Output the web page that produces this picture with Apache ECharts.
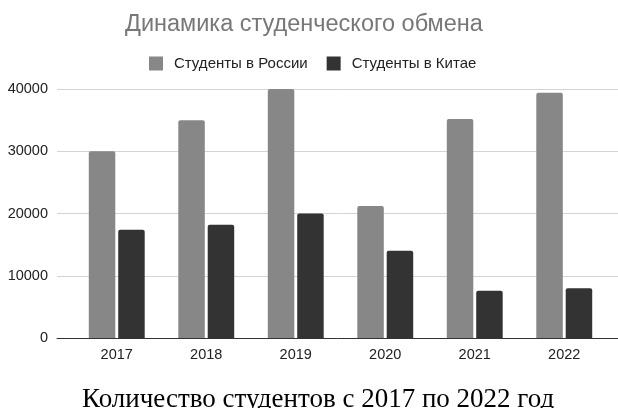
<!DOCTYPE html>
<html><head><meta charset="utf-8">
<script src="https://cdn.jsdelivr.net/npm/echarts@6/dist/echarts.min.js"></script>
<style>html,body{margin:0;padding:0;background:#fff}#c{width:618px;height:408px}</style>
</head><body><div id="c"></div>
<script>
const categories = ['2017','2018','2019','2020','2021','2022'];
const russia = [30000, 35000, 40000, 21200, 35200, 39400];
const china = [17400, 18200, 20000, 14000, 7600, 8000];
const yTicks = [0, 10000, 20000, 30000, 40000];

const chart = echarts.init(document.getElementById('c'));
const font = 'Liberation Sans, Arial, sans-serif';
chart.setOption({
  backgroundColor: '#fff',
  animation: false,
  title: [{
    text: 'Динамика студенческого обмена',
    left: 120, top: 8,
    textStyle: {fontFamily: font, fontSize: 23.5, fontWeight: 'normal', color: '#777777'}
  }, {
    text: 'Количество студентов с 2017 по 2022 год',
    left: 77, top: 381,
    textStyle: {fontFamily: 'Liberation Serif, Times New Roman, serif', fontSize: 27, fontWeight: 'normal', color: '#000'}
  }],
  legend: {
    top: 51, left: 144, itemWidth: 14, itemHeight: 14, itemGap: 19,
    icon: 'rect',
    textStyle: {fontFamily: font, fontSize: 15, color: '#222', padding: [0, 0, 0, 6]},
    data: ['Студенты в России', 'Студенты в Китае']
  },
  grid: [
    {left: 57, right: 0, top: 89, bottom: 70},
    {left: 72, right: 9, top: 89, bottom: 70}
  ],
  xAxis: [
    {gridIndex: 0, type: 'category', data: [''], axisLine: {lineStyle: {color: '#333', width: 1}}, axisTick: {show: false}, axisLabel: {show: false}},
    {gridIndex: 1, type: 'category', data: categories, axisLine: {show: false}, axisTick: {show: false},
     axisLabel: {fontFamily: font, fontSize: 14.5, color: '#222', margin: 9}}
  ],
  yAxis: [
    {gridIndex: 0, type: 'value', min: 0, max: 40000, interval: 10000,
     axisLine: {show: false}, axisTick: {show: false},
     axisLabel: {fontFamily: font, fontSize: 14.5, color: '#222', margin: 9,
       formatter: v => yTicks.includes(v) ? String(v) : ''},
     splitLine: {lineStyle: {color: '#d4d4d4', width: 1}}},
    {gridIndex: 1, type: 'value', min: 0, max: 40000, interval: 10000, show: false, splitLine: {show: false}}
  ],
  series: [
    {name: 'Студенты в России', type: 'bar', xAxisIndex: 1, yAxisIndex: 1, data: russia,
     barWidth: 26.5, barGap: '11%', itemStyle: {color: '#878787', borderRadius: [2,2,0,0]}},
    {name: 'Студенты в Китае', type: 'bar', xAxisIndex: 1, yAxisIndex: 1, data: china,
     barWidth: 26.5, barGap: '11%', itemStyle: {color: '#333333', borderRadius: [2,2,0,0]}}
  ]
});
</script></body></html>
